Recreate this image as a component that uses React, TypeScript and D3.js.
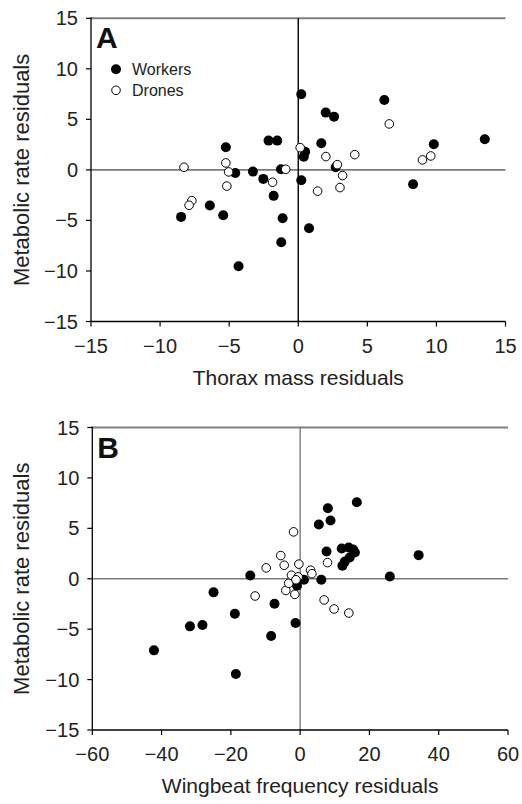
import React from "react";
import * as d3 from "d3";

type Pt = [number, number];

// Panel A: thorax mass residuals vs metabolic rate residuals
const workersA: Pt[] = [
  [-8.48, -4.65], [-6.4, -3.53], [-5.43, -4.49], [-5.24, 2.24], [-4.56, -0.3],
  [-4.32, -9.53], [-3.28, -0.17], [-2.53, -0.89], [-2.15, 2.9], [-1.52, 2.9],
  [-1.78, -2.57], [-1.25, 0.06], [-1.13, -4.79], [-1.23, -7.16], [0.22, 7.48],
  [0.22, -1.02], [0.5, 1.8], [0.4, 1.3], [0.78, -5.78], [1.67, 2.63],
  [1.99, 5.67], [2.59, 5.27], [2.71, 0.26], [6.23, 6.92], [8.31, -1.42],
  [9.81, 2.53], [13.5, 3.03],
];
const dronesA: Pt[] = [
  [-8.27, 0.26], [-7.7, -3.04], [-7.9, -3.5], [-5.24, 0.69], [-5.04, -0.2],
  [-5.17, -1.6], [-1.86, -1.22], [-0.91, 0.06], [0.14, 2.2], [2.0, 1.32],
  [2.83, 0.52], [3.21, -0.56], [3.02, -1.75], [1.4, -2.1], [4.09, 1.51],
  [6.59, 4.55], [8.99, 0.99], [9.59, 1.38],
];

// Panel B: wingbeat frequency residuals vs metabolic rate residuals
const workersB: Pt[] = [
  [-42.2, -7.1], [-31.8, -4.72], [-28.2, -4.58], [-25, -1.35], [-18.85, -3.47],
  [-18.56, -9.44], [-14.4, 0.33], [-8.37, -5.67], [-7.4, -2.48], [-1.33, -4.39],
  [-0.9, -0.7], [1.1, -0.1], [5.4, 5.38], [6.1, -0.1], [7.62, 2.7],
  [8.0, 7.0], [8.77, 5.77], [16.36, 7.59], [12.0, 3.0], [14.0, 3.1],
  [15.3, 2.9], [15.8, 2.6], [14.3, 2.1], [12.9, 1.7], [12.2, 1.3],
  [25.9, 0.23], [34.2, 2.34],
];
const dronesB: Pt[] = [
  [-13, -1.71], [-9.8, 1.08], [-5.6, 2.3], [-4.6, 1.34], [-4.13, -1.16],
  [-3.3, -0.45], [-2.5, 0.35], [-1.9, 4.65], [-1.53, -1.55], [-0.58, 0.18],
  [-0.37, 1.45], [-1.2, -0.1], [3.0, 0.85], [3.4, 0.5], [7.9, 1.6],
  [6.93, -2.1], [9.8, -3.0], [14.05, -3.4],
];

const yTicks = [-15, -10, -5, 0, 5, 10, 15];
const xTicksA = [-15, -10, -5, 0, 5, 10, 15];
const xTicksB = [-60, -40, -20, 0, 20, 40, 60];

const yTitle = "Metabolic rate residuals";
const xTitleA = "Thorax mass residuals";
const xTitleB = "Wingbeat frequency residuals";
const legendLabels = ["Workers", "Drones"];

const FONT = "'Liberation Sans', Arial, Helvetica, sans-serif";

const fmt = (v: number) => (v < 0 ? "\u2212" + Math.abs(v) : String(v));

type PanelProps = {
  letter: string;
  x: d3.ScaleLinear<number, number>;
  y: d3.ScaleLinear<number, number>;
  xTicks: number[];
  xTitle: string;
  workers: Pt[];
  drones: Pt[];
  legend: boolean;
  vZeroColor: string;
};

function Panel({ letter, x, y, xTicks, xTitle, workers, drones, legend, vZeroColor }: PanelProps) {
  const [x0, x1] = x.range();
  const [yb, yt] = y.range();
  const midY = (yb + yt) / 2;
  const midX = (x0 + x1) / 2;
  return (
    <g fontFamily={FONT}>
      {/* top frame line */}
      <line x1={x0} x2={x1} y1={yt} y2={yt} stroke="#808080" strokeWidth={2} />
      {/* zero lines */}
      <line x1={x0} x2={x1} y1={y(0)} y2={y(0)} stroke="#7a7a7a" strokeWidth={1.6} />
      <line x1={x(0)} x2={x(0)} y1={yt} y2={yb} stroke={vZeroColor} strokeWidth={1.4} />
      {/* axes */}
      <line x1={x0} x2={x0} y1={yt - 1} y2={yb} stroke="#000" strokeWidth={1.3} />
      <line x1={x0} x2={x1} y1={yb} y2={yb} stroke="#000" strokeWidth={1.3} />
      {yTicks.map((t) => (
        <g key={"y" + t}>
          <line x1={x0 - 5} x2={x0} y1={y(t)} y2={y(t)} stroke="#000" strokeWidth={1.2} />
          <text x={x0 - 13} y={y(t)} dy="0.35em" textAnchor="end" fontSize={20} fill="#222">
            {fmt(t)}
          </text>
        </g>
      ))}
      {xTicks.map((t) => (
        <g key={"x" + t}>
          <line x1={x(t)} x2={x(t)} y1={yb} y2={yb + 5} stroke="#000" strokeWidth={1.2} />
          <text x={x(t)} y={yb + 31} textAnchor="middle" fontSize={20} fill="#222">
            {fmt(t)}
          </text>
        </g>
      ))}
      <text x={midX} y={yb + 63} textAnchor="middle" fontSize={21} fill="#222">
        {xTitle}
      </text>
      <text
        transform={`translate(21,${midY}) rotate(-90)`}
        dy="0.35em"
        textAnchor="middle"
        fontSize={22}
        fill="#222"
      >
        {yTitle}
      </text>
      <text x={x0 + 5} y={yt + 30} fontSize={30} fontWeight="bold" fill="#111">
        {letter}
      </text>
      {workers.map((d, i) => (
        <circle key={"w" + i} cx={x(d[0])} cy={y(d[1])} r={5} fill="#000" />
      ))}
      {drones.map((d, i) => (
        <circle key={"d" + i} cx={x(d[0])} cy={y(d[1])} r={4.3} fill="#fff" stroke="#000" strokeWidth={1} />
      ))}
      {legend && (
        <g>
          <circle cx={x0 + 25} cy={yt + 51} r={5} fill="#000" />
          <text x={x0 + 41} y={yt + 56.5} fontSize={16} fill="#222">{legendLabels[0]}</text>
          <circle cx={x0 + 25} cy={yt + 72} r={4.3} fill="#fff" stroke="#000" strokeWidth={1} />
          <text x={x0 + 41} y={yt + 77.5} fontSize={16} fill="#222">{legendLabels[1]}</text>
        </g>
      )}
    </g>
  );
}

export default function App() {
  const xA = d3.scaleLinear().domain([-15, 15]).range([91, 505.5]);
  const yA = d3.scaleLinear().domain([-15, 15]).range([321.5, 18.3]);
  const xB = d3.scaleLinear().domain([-60, 60]).range([92.3, 508]);
  const yB = d3.scaleLinear().domain([-15, 15]).range([730, 427.5]);
  return (
    <svg
      width={522}
      height={804}
      style={{ position: "absolute", left: 0, top: 0, display: "block", background: "#fff" }}
    >
      <rect width={522} height={804} fill="#fff" />
      <Panel letter="A" x={xA} y={yA} xTicks={xTicksA} xTitle={xTitleA} workers={workersA} drones={dronesA} legend={true} vZeroColor="#000" />
      <Panel letter="B" x={xB} y={yB} xTicks={xTicksB} xTitle={xTitleB} workers={workersB} drones={dronesB} legend={false} vZeroColor="#7a7a7a" />
    </svg>
  );
}
